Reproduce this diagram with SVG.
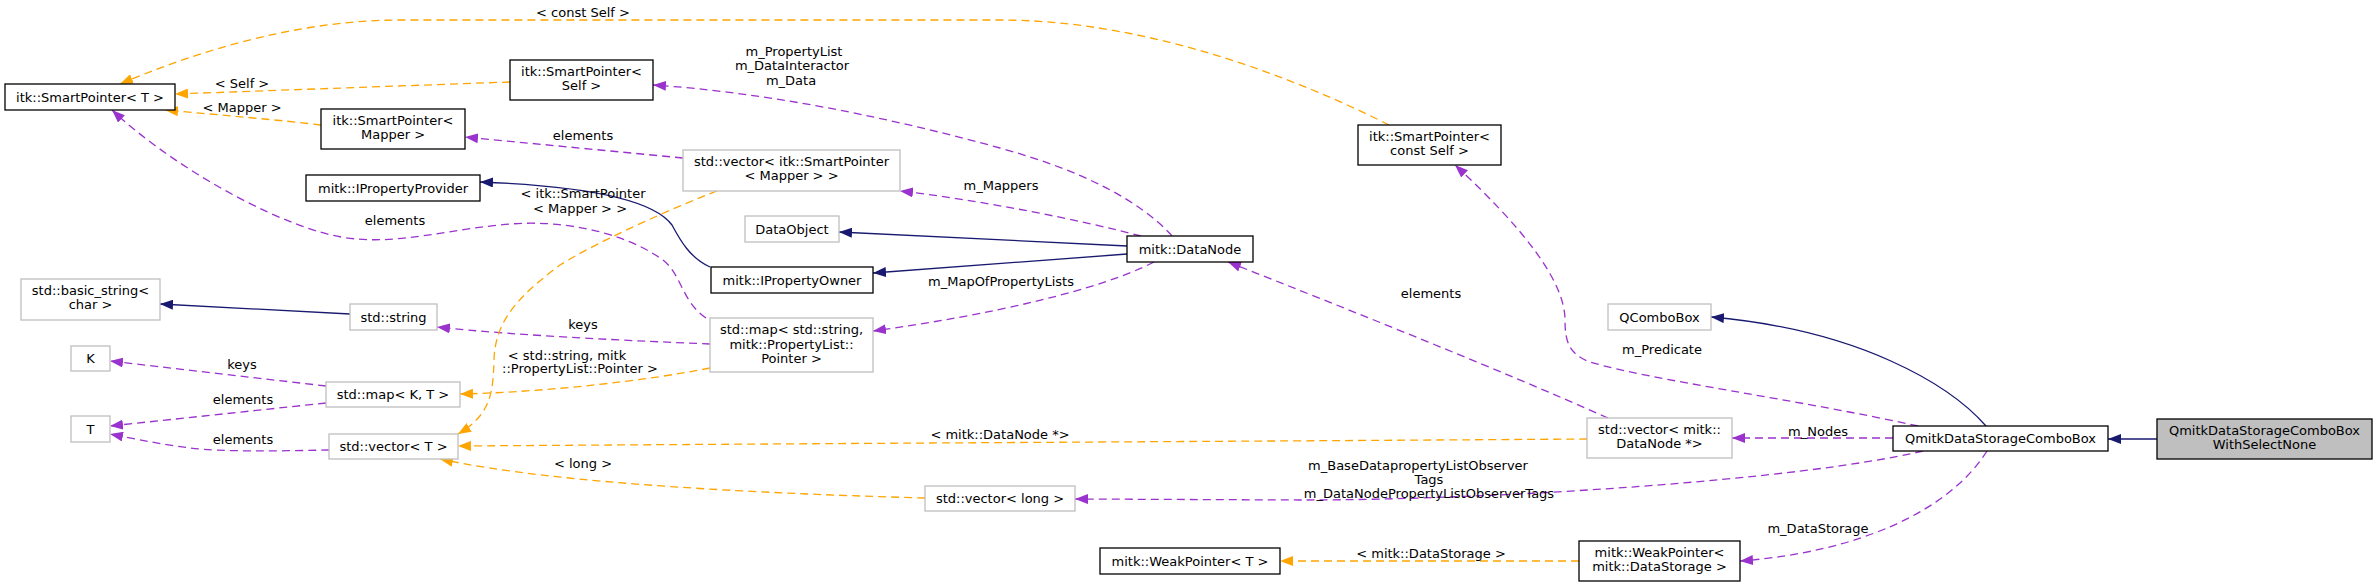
<svg xmlns="http://www.w3.org/2000/svg" width="2377" height="587" viewBox="0 0 2377 587">
<style>
text{font-family:"DejaVu Sans","Liberation Sans",sans-serif;font-size:13px;fill:#000;text-anchor:middle}
.nb{fill:#fff;stroke:#000;stroke-width:1.3}
.ng{fill:#fff;stroke:#bfbfbf;stroke-width:1.3}
.nf{fill:#bfbfbf;stroke:#000;stroke-width:1.3}
.eb{fill:none;stroke:#191970;stroke-width:1.3}
.ep{fill:none;stroke:#9a32cd;stroke-width:1.3;stroke-dasharray:8,5}
.eo{fill:none;stroke:#ffa500;stroke-width:1.3;stroke-dasharray:8,5}
</style>
<defs>
<marker id="ab" markerUnits="userSpaceOnUse" markerWidth="14" markerHeight="10" refX="13" refY="5" orient="auto"><path d="M0,0 L13,5 L0,10 z" fill="#191970"/></marker>
<marker id="ap" markerUnits="userSpaceOnUse" markerWidth="14" markerHeight="10" refX="13" refY="5" orient="auto"><path d="M0,0 L13,5 L0,10 z" fill="#9a32cd"/></marker>
<marker id="ao" markerUnits="userSpaceOnUse" markerWidth="14" markerHeight="10" refX="13" refY="5" orient="auto"><path d="M0,0 L13,5 L0,10 z" fill="#ffa500"/></marker>
</defs>
<rect width="2377" height="587" fill="#fff"/>
<g id="edges">
<path class="eb" marker-end="url(#ab)" d="M2157,439 L2108,439"/>
<path class="eb" marker-end="url(#ab)" d="M1986,426 C1950,385 1860,330 1711,317"/>
<path class="ep" marker-end="url(#ap)" d="M1893,438 L1732,438"/>
<path class="ep" marker-end="url(#ap)" d="M1923,451 C1800,480 1500,500 1300,500 L1075,499"/>
<path class="ep" marker-end="url(#ap)" d="M1987,451 C1950,510 1860,552 1740,561"/>
<path class="ep" marker-end="url(#ap)" d="M1918,426 C1800,400 1650,380 1590,362 C1568,354 1565,340 1565,320 C1565,280 1520,225 1455,165"/>
<path class="eo" marker-end="url(#ao)" d="M1579,561 L1280,561"/>
<path class="eo" marker-end="url(#ao)" d="M1587,439 C1300,441 900,443 458,446"/>
<path class="ep" marker-end="url(#ap)" d="M1608,418 C1500,370 1350,310 1228,262"/>
<path class="eo" marker-end="url(#ao)" d="M925,498 C780,494 560,485 440,459"/>
<path class="ep" marker-end="url(#ap)" d="M710,344 C640,341 520,336 437,327"/>
<path class="eo" marker-end="url(#ao)" d="M710,368 C650,380 550,392 460,394"/>
<path class="ep" marker-end="url(#ap)" d="M706,318 C680,300 682,272 660,258 C622,232 560,218 500,225 C430,232 380,250 320,232 C255,213 165,160 112,110"/>
<path class="ep" marker-end="url(#ap)" d="M1172,236 C1140,200 1080,170 1000,148 C880,115 760,92 653,85"/>
<path class="ep" marker-end="url(#ap)" d="M1141,236 C1080,220 980,200 900,191"/>
<path class="eb" marker-end="url(#ab)" d="M1127,246 L839,232"/>
<path class="eb" marker-end="url(#ab)" d="M1127,254 L873,273"/>
<path class="ep" marker-end="url(#ap)" d="M1154,262 C1100,290 990,315 873,331"/>
<path class="eb" marker-end="url(#ab)" d="M710,267 C690,258 680,240 672,225 C650,195 560,185 480,182"/>
<path class="ep" marker-end="url(#ap)" d="M683,158 L465,137"/>
<path class="eo" marker-end="url(#ao)" d="M717,191 C680,205 600,240 560,265 C520,295 495,320 494,360 C493,395 490,415 458,434"/>
<path class="eo" marker-end="url(#ao)" d="M510,82 L175,94"/>
<path class="eo" marker-end="url(#ao)" d="M321,125 C280,120 220,115 165,110"/>
<path class="eo" marker-end="url(#ao)" d="M1389,125 C1300,80 1150,20 1000,20 L400,20 C300,20 200,50 120,84"/>
<path class="ep" marker-end="url(#ap)" d="M326,386 L110,361"/>
<path class="ep" marker-end="url(#ap)" d="M326,403 L110,426"/>
<path class="ep" marker-end="url(#ap)" d="M329,450 C280,451 220,452 190,448 C160,444 140,440 110,434"/>
<path class="eb" marker-end="url(#ab)" d="M350,314 L160,304"/>
<text x="583" y="17">&lt; const Self &gt;</text>
<text x="242" y="88">&lt; Self &gt;</text>
<text x="242" y="112">&lt; Mapper &gt;</text>
<text x="583" y="140">elements</text>
<text x="583" y="198">&lt; itk::SmartPointer</text>
<text x="580" y="213">&lt; Mapper &gt; &gt;</text>
<text x="395" y="225">elements</text>
<text x="583" y="329">keys</text>
<text x="242" y="369">keys</text>
<text x="243" y="404">elements</text>
<text x="243" y="444">elements</text>
<text x="567" y="360">&lt; std::string, mitk</text>
<text x="580" y="373">::PropertyList::Pointer &gt;</text>
<text x="583" y="468">&lt; long &gt;</text>
<text x="794" y="56">m_PropertyList</text>
<text x="792" y="70">m_DataInteractor</text>
<text x="791" y="85">m_Data</text>
<text x="1001" y="190">m_Mappers</text>
<text x="1001" y="286">m_MapOfPropertyLists</text>
<text x="1000" y="439">&lt; mitk::DataNode *&gt;</text>
<text x="1431" y="298">elements</text>
<text x="1662" y="354">m_Predicate</text>
<text x="1818" y="436">m_Nodes</text>
<text x="1418" y="470">m_BaseDatapropertyListObserver</text>
<text x="1429" y="484">Tags</text>
<text x="1429" y="498">m_DataNodePropertyListObserverTags</text>
<text x="1818" y="533">m_DataStorage</text>
<text x="1431" y="558">&lt; mitk::DataStorage &gt;</text>
</g>
<g id="n_sp_T"><rect class="nb" x="5" y="84" width="170" height="26"/><text x="90" y="101.5">itk::SmartPointer&lt; T &gt;</text></g>
<g id="n_sp_self"><rect class="nb" x="510" y="60" width="143" height="40"/><text x="581.5" y="76">itk::SmartPointer&lt;</text><text x="581.5" y="90">Self &gt;</text></g>
<g id="n_sp_mapper"><rect class="nb" x="321" y="109" width="144" height="40"/><text x="393" y="125">itk::SmartPointer&lt;</text><text x="393" y="139">Mapper &gt;</text></g>
<g id="n_ipp"><rect class="nb" x="306" y="175" width="174" height="26"/><text x="393" y="192.5">mitk::IPropertyProvider</text></g>
<g id="n_bs"><rect class="ng" x="21" y="279" width="139" height="41"/><text x="90.5" y="295">std::basic_string&lt;</text><text x="90.5" y="309">char &gt;</text></g>
<g id="n_string"><rect class="ng" x="350" y="304" width="87" height="26"/><text x="393.5" y="321.5">std::string</text></g>
<g id="n_K"><rect class="ng" x="71" y="346" width="39" height="25"/><text x="90.5" y="363">K</text></g>
<g id="n_T"><rect class="ng" x="71" y="416" width="39" height="26"/><text x="90.5" y="433.5">T</text></g>
<g id="n_mapKT"><rect class="ng" x="326" y="382" width="134" height="25"/><text x="393" y="399">std::map&lt; K, T &gt;</text></g>
<g id="n_vecT"><rect class="ng" x="329" y="434" width="129" height="25"/><text x="393.5" y="451">std::vector&lt; T &gt;</text></g>
<g id="n_vecSP"><rect class="ng" x="683" y="150" width="217" height="41"/><text x="791.5" y="166">std::vector&lt; itk::SmartPointer</text><text x="791.5" y="180">&lt; Mapper &gt; &gt;</text></g>
<g id="n_dataobj"><rect class="ng" x="745" y="216" width="94" height="26"/><text x="792" y="233.5">DataObject</text></g>
<g id="n_datanode"><rect class="nb" x="1127" y="236" width="126" height="26"/><text x="1190" y="253.5">mitk::DataNode</text></g>
<g id="n_ipo"><rect class="nb" x="711" y="267" width="162" height="26"/><text x="792" y="284.5">mitk::IPropertyOwner</text></g>
<g id="n_mapstr"><rect class="ng" x="710" y="318" width="163" height="54"/><text x="791.5" y="334">std::map&lt; std::string,</text><text x="791.5" y="349">mitk::PropertyList::</text><text x="791.5" y="363">Pointer &gt;</text></g>
<g id="n_veclong"><rect class="ng" x="925" y="486" width="150" height="25"/><text x="1000" y="503">std::vector&lt; long &gt;</text></g>
<g id="n_wpT"><rect class="nb" x="1100" y="548" width="180" height="26"/><text x="1190" y="565.5">mitk::WeakPointer&lt; T &gt;</text></g>
<g id="n_spconst"><rect class="nb" x="1358" y="125" width="143" height="40"/><text x="1429.5" y="141">itk::SmartPointer&lt;</text><text x="1429.5" y="155">const Self &gt;</text></g>
<g id="n_qcombo"><rect class="ng" x="1608" y="304" width="103" height="26"/><text x="1659.5" y="321.5">QComboBox</text></g>
<g id="n_vecdn"><rect class="ng" x="1587" y="418" width="145" height="40"/><text x="1659.5" y="434">std::vector&lt; mitk::</text><text x="1659.5" y="448">DataNode *&gt;</text></g>
<g id="n_qmitk"><rect class="nb" x="1893" y="426" width="215" height="25"/><text x="2000.5" y="443">QmitkDataStorageComboBox</text></g>
<g id="n_wpds"><rect class="nb" x="1579" y="541" width="161" height="40"/><text x="1659.5" y="557">mitk::WeakPointer&lt;</text><text x="1659.5" y="571">mitk::DataStorage &gt;</text></g>
<g id="n_sel"><rect class="nf" x="2157" y="419" width="215" height="40"/><text x="2264.5" y="435">QmitkDataStorageComboBox</text><text x="2264.5" y="449">WithSelectNone</text></g>
</svg>
